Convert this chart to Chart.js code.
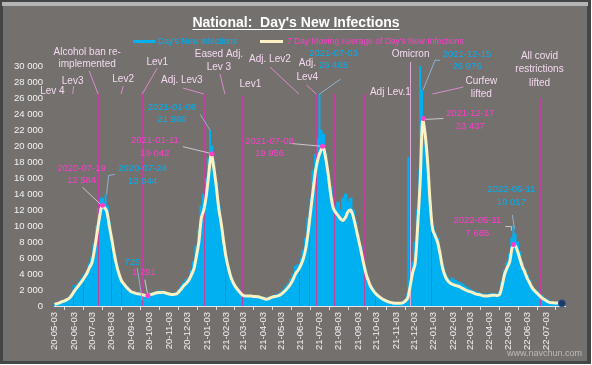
<!DOCTYPE html>
<html lang="en">
<head>
  <meta charset="UTF-8">
  <title>National: Day's New Infections</title>
  <script src="https://cdn.jsdelivr.net/npm/chart.js"></script>
  <style>
    body { margin: 0; background: #ffffff; }
    #chart { display: block; }
  </style>
</head>
<body>
  <canvas id="chart" width="592" height="365"></canvas>

  <script>
    // Data: one value every 4 days from 2020-05-03
    const START_DATE = '2020-05-03';
    const STEP_DAYS = 4;

    const dailyNew = [
      250, 350, 450, 600, 700, 900, 1100, 1500, 2600, 2500,
      3000, 3400, 4000, 4300, 5300, 6000, 7800, 10000, 12200, 13500,
      13000, 12500, 10500, 8500, 6500, 5000, 3800, 3200, 2700, 2400,
      2000, 1800, 1600, 1700, 1600, 1500, 1400, 1300, 1500, 1500,
      1700, 1800, 1900, 1700, 1800, 1700, 1400, 1500, 1600, 1700,
      2100, 2500, 2900, 3300, 3600, 4500, 5600, 7500, 9500, 12500,
      14000, 16000, 18500, 20000, 18000, 15500, 12500, 10000, 8000, 6000,
      4500, 3600, 2900, 2400, 2000, 1700, 1400, 1300, 1350, 1300,
      1300, 1300, 1200, 1100, 1100, 900, 1000, 1200, 1300, 1400,
      1500, 1700, 2000, 2400, 2800, 3400, 4000, 5000, 5200, 6000,
      7000, 8500, 11000, 13500, 17000, 19000, 21000, 22000, 21500, 19000,
      16000, 15000, 13500, 12500, 13000, 12000, 13500, 14000, 13000, 13500,
      12000, 10500, 9000, 7500, 6000, 4500, 3500, 2600, 2100, 1700,
      1400, 1100, 900, 800, 600, 500, 450, 400, 400, 400,
      500, 800, 1500, 2800, 5500, 8000, 12000, 17000, 22000, 20000,
      15000, 12000, 10000, 9000, 8500, 7000, 5000, 4000, 3500, 3200,
      3500, 3200, 3000, 2900, 2800, 2500, 2300, 2100, 1900, 1800,
      1700, 1600, 1500, 1500, 1400, 1500, 1600, 1500, 1500, 1700,
      3000, 4500, 5500, 6500, 8500, 9000, 8000, 6800, 5500, 4600,
      3800, 3200, 2500, 2100, 1800, 1500, 1300, 1000, 800, 600,
      500, 500, 450, 400, 350
    ];

    const movingAvg = [
      200, 300, 400, 550, 650, 800, 1000, 1400, 1900, 2300,
      2700, 3100, 3600, 4100, 4800, 5400, 7000, 9000, 11000, 12500,
      12300, 11800, 10000, 8300, 6500, 5000, 3900, 3100, 2700, 2300,
      2000, 1750, 1650, 1550, 1500, 1450, 1350, 1300, 1350, 1450,
      1550, 1650, 1700, 1700, 1700, 1600, 1500, 1450, 1450, 1500,
      1800, 2150, 2550, 2850, 3250, 3900, 4600, 6200, 8000, 11000,
      12000, 13800, 16500, 19000, 17300, 15000, 12200, 10300, 8000, 6000,
      4600, 3500, 2800, 2300, 1900, 1550, 1300, 1250, 1250, 1250,
      1200, 1200, 1150, 1050, 950, 850, 900, 1050, 1150, 1200,
      1300, 1450, 1700, 2000, 2350, 2800, 3400, 4100, 4500, 5100,
      5900, 7200, 9300, 12000, 14600, 17000, 18500, 19400, 19900, 18500,
      16500, 14000, 12300, 11700, 11300, 10900, 10700, 11100, 11800, 12000,
      11300, 10000, 8600, 7200, 5700, 4300, 3300, 2500, 2000, 1600,
      1300, 1050, 850, 700, 550, 450, 380, 350, 330, 350,
      400, 600, 1000, 2500, 4200, 5300, 10000, 15500, 23300, 21500,
      18000, 13000, 9600, 8800, 8000, 6500, 4800, 3800, 3200, 2900,
      2700, 2600, 2500, 2400, 2200, 2050, 1900, 1800, 1700, 1550,
      1450, 1400, 1300, 1250, 1250, 1300, 1350, 1350, 1300, 1450,
      2600, 4000, 4800, 5500, 7300, 7600, 7000, 6000, 5000, 4300,
      3500, 2900, 2300, 1900, 1600, 1300, 1000, 800, 600, 450,
      400, 390, 380, 350, 330
    ];

    // single days that stand out from the rest
    const spikeDates = ['2020-07-24', '2021-01-08', '2021-07-03', '2021-11-23', '2021-12-12', '2021-12-15', '2022-05-11'];
    const spikeValues = [13944, 21980, 26485, 18586, 37875, 26976, 10017];

    // labelled values
    const noteDates = ['2020-07-19', '2020-07-24', '2020-09-21', '2020-09-30', '2021-01-08', '2021-01-11',
                       '2021-07-03', '2021-07-08', '2021-12-15', '2021-12-17', '2022-05-11', '2022-05-11'];
    const noteValues = [12584, 13944, 725, 1291, 21980, 19042, 26485, 19956, 26976, 23437, 10017, 7685];
    const noteSeries = ['avg', 'daily', 'daily', 'avg', 'daily', 'avg', 'daily', 'avg', 'daily', 'avg', 'daily', 'avg'];
    const noteShowDate = [true, true, false, false, true, true, true, true, true, true, true, true];

    // lockdown levels and other events
    const eventDates = ['2020-05-01', '2020-06-01', '2020-06-17', '2020-07-12', '2020-08-01', '2020-08-18', '2020-09-21',
                        '2020-12-29', '2021-02-01', '2021-03-01', '2021-05-31', '2021-06-16', '2021-06-28', '2021-07-26',
                        '2021-09-13', '2021-10-01', '2021-11-25', '2021-12-30', '2022-06-22'];
    const eventLabels = [['Lev 4'], ['Lev3'], [], ['Alcohol ban re-', 'implemented'], [], ['Lev2'], ['Lev1'],
                         ['Adj. Lev3'], ['Eased Adj.', 'Lev 3'], ['Lev1'], ['Adj. Lev2'], [], ['Adj.', 'Lev4'], [],
                         [], ['Adj Lev.1'], ['Omicron'], ['Curfew', 'lifted'], ['All covid', 'restrictions', 'lifted']];

    // ---- layout of the annotations (pixel offsets) ----
    const eventLayout = [
      { top: 26000, label: [-1, -7] },
      { top: 26500, label: [0, -13], leader: [[1, -8], [0, 0]] },
      { top: 26500 },
      { top: 26500, label: [-11, -42], gap: 12, leader: [[-9, -23], [0, 0]] },
      { top: 26500 },
      { top: 26500, label: [2, -15], leader: [[2, -8], [0, 0]] },
      { top: 26500, label: [15, -32], leader: [[15, -26], [0, 0]] },
      { top: 26500, label: [-22, -14], leader: [[-21, -6], [0, 0]] },
      { top: 26500, label: [-6, -40], gap: 13, leader: [[-5, -20], [0, 0]] },
      { top: 26250, label: [8, -12] },
      { top: 26500, label: [-29, -35], leader: [[-29, -27], [0, 0]] },
      { top: 26500 },
      { top: 26500, label: [-9, -31], gap: 14, leader: [[-10, -9], [0, 0]] },
      { top: 26500 },
      { top: 26500 },
      { top: 26000, label: [15, -6] },
      { top: 30500, label: [1, -8], light: true },
      { top: 26500, label: [50, -13], gap: 13, leader: [[32, -7], [1, 0]] },
      { top: 26000, label: [0, -42], gap: 13.5 }
    ];

    const noteLayout = [
      { label: [-21, -37], leader: [[-20, -18], [-2, -1]] },
      { label: [37, -26], leader: [[9, -20], [3, -19], [1, 0]] },
      { label: [-10, -38], leader: [[-5, -32], [0, 0]] },
      { label: [-4, -23], leader: [[-3, -16], [0, 0]] },
      { label: [-38, -23], leader: [[-10, -16], [0, 0]] },
      { label: [-57, -13], leader: [[-29, -7], [0, 0]] },
      { label: [14, -41], leader: [[21, -15], [0, 0]] },
      { label: [-53, -5], leader: [[-33, -3], [0, 0]] },
      { label: [45, -36], leader: [[18, -30], [13, -30], [1, 0]] },
      { label: [47, -5], leader: [[20, 0], [0, 1]] },
      { label: [-2, -36], leader: [[-1, -11], [1, 3]] },
      { label: [-36, -24], leader: [[-8, -18], [-2, -18], [-2, -14]] }
    ];

    const FONT = '"Liberation Sans", Arial, sans-serif';
    const CYAN = '#00b0f0';
    const MAGENTA = '#ff3ccc';
    const CREAM = '#fbf1c2';

    const DAY_MS = 86400000;
    const startMs = Date.parse(START_DATE);
    const dayOf = s => Math.round((Date.parse(s) - startMs) / DAY_MS);
    const fmtNum = v => String(v).replace(/\B(?=(\d{3})+(?!\d))/g, ' ');

    // x ticks on the 3rd of every month
    const tickDays = [];
    for (let y = 2020, m = 4; y < 2022 || m <= 6; m++) {
      if (m > 11) { m = 0; y++; }
      tickDays.push(Math.round((Date.UTC(y, m, 3) - startMs) / DAY_MS));
    }
    function tickLabel(day) {
      const d = new Date(startMs + day * DAY_MS);
      const p = n => String(n).padStart(2, '0');
      return p(d.getUTCFullYear() % 100) + '-' + p(d.getUTCMonth() + 1) + '-' + p(d.getUTCDate());
    }

    const avgPoints = movingAvg.map((v, i) => ({ x: i * STEP_DAYS, y: v }));
    const dailyPoints = dailyNew.map((v, i) => ({ x: i * STEP_DAYS, y: v }));
    const spikePoints = spikeDates.map((d, i) => ({ x: dayOf(d), y: spikeValues[i] }));

    function drawLeader(ctx, x0, y0, pts, color) {
      ctx.strokeStyle = color;
      ctx.lineWidth = 1;
      ctx.beginPath();
      pts.forEach((p, i) => {
        if (i === 0) ctx.moveTo(x0 + p[0], y0 + p[1]);
        else ctx.lineTo(x0 + p[0], y0 + p[1]);
      });
      ctx.stroke();
    }

    const decorations = {
      id: 'decorations',
      beforeDraw(chart) {
        const ctx = chart.ctx;
        const w = chart.width, h = chart.height;
        ctx.save();
        ctx.fillStyle = '#ffffff';
        ctx.fillRect(0, 0, w, h);
        ctx.fillStyle = '#454545';
        ctx.fillRect(0, 0, w - 1, h - 1);
        ctx.fillStyle = '#b4b4b4';
        ctx.fillRect(2, 2, w - 6, 4);
        ctx.fillStyle = '#74706e';
        ctx.fillRect(3, 6, w - 8, h - 10);
        ctx.restore();
      },
      beforeDatasetDraw(chart, args) {
        if (args.index !== 0) return;
        const ctx = chart.ctx;
        const xs = chart.scales.x, ys = chart.scales.y;
        const bottom = chart.chartArea.bottom;
        ctx.save();
        eventDates.forEach((d, i) => {
          const x = Math.round(xs.getPixelForValue(dayOf(d))) + 0.5;
          const top = ys.getPixelForValue(eventLayout[i].top);
          ctx.strokeStyle = eventLayout[i].light ? '#e2a6da' : '#c2409e';
          ctx.lineWidth = 1;
          ctx.beginPath();
          ctx.moveTo(x, top);
          ctx.lineTo(x, bottom);
          ctx.stroke();
        });
        ctx.restore();
      },
      afterDatasetsDraw(chart) {
        const ctx = chart.ctx;
        const xs = chart.scales.x, ys = chart.scales.y;
        ctx.save();
        ctx.textAlign = 'center';
        ctx.textBaseline = 'middle';

        // event labels
        eventDates.forEach((d, i) => {
          const lay = eventLayout[i];
          if (!lay.label) return;
          const x = xs.getPixelForValue(dayOf(d));
          const y = ys.getPixelForValue(lay.top);
          if (lay.leader) drawLeader(ctx, x, y, lay.leader, '#d98ccb');
          ctx.fillStyle = '#f3d8ef';
          ctx.font = '10px ' + FONT;
          eventLabels[i].forEach((t, k) => {
            ctx.fillText(t, x + lay.label[0], y + lay.label[1] + k * (lay.gap || 13));
          });
        });

        // value notes
        noteDates.forEach((d, i) => {
          const lay = noteLayout[i];
          const isAvg = noteSeries[i] === 'avg';
          const x = xs.getPixelForValue(dayOf(d));
          const y = ys.getPixelForValue(noteValues[i]);
          drawLeader(ctx, x, y, lay.leader, isAvg ? '#cdc6cc' : '#8fb3cc');
          if (isAvg) {
            ctx.fillStyle = MAGENTA;
            ctx.beginPath();
            ctx.arc(x, y, 2.5, 0, Math.PI * 2);
            ctx.fill();
          }
          const lines = noteShowDate[i] ? [d, fmtNum(noteValues[i])] : [fmtNum(noteValues[i])];
          ctx.fillStyle = isAvg ? MAGENTA : CYAN;
          ctx.font = '9.5px ' + FONT;
          lines.forEach((t, k) => ctx.fillText(t, x + lay.label[0], y + lay.label[1] + k * 12.5));
        });

        // last point marker
        const lastX = xs.getPixelForValue((movingAvg.length - 1) * STEP_DAYS);
        const lastY = ys.getPixelForValue(movingAvg[movingAvg.length - 1]);
        ctx.fillStyle = '#1f3a6a';
        ctx.strokeStyle = '#2d4f8a';
        ctx.beginPath();
        ctx.arc(lastX, lastY, 3.5, 0, Math.PI * 2);
        ctx.fill();
        ctx.stroke();

        // title
        const title = "National:  Day's New Infections";
        ctx.font = 'bold 14px ' + FONT;
        ctx.fillStyle = '#ffffff';
        ctx.textBaseline = 'alphabetic';
        ctx.fillText(title, 296, 27);
        const tw = ctx.measureText(title).width;
        ctx.fillRect(296 - tw / 2, 29, tw, 1);

        // legend
        ctx.textAlign = 'left';
        ctx.textBaseline = 'middle';
        ctx.font = '8.5px ' + FONT;
        ctx.fillStyle = CYAN;
        ctx.fillRect(133, 40, 22, 3);
        ctx.fillText("Day's New Infections", 158, 41.5);
        ctx.fillStyle = CREAM;
        ctx.fillRect(260, 40, 23, 3);
        ctx.fillStyle = MAGENTA;
        ctx.fillText("7 Day Moving Average of Day's New Infections", 287, 41.5);

        // watermark
        ctx.textAlign = 'right';
        ctx.font = '9px ' + FONT;
        ctx.fillStyle = 'rgba(225,225,225,0.65)';
        ctx.fillText('www.navchun.com', 582, 354);
        ctx.restore();
      }
    };

    const chart = new Chart(document.getElementById('chart'), {
      type: 'bar',
      data: {
        datasets: [
          {
            type: 'line',
            label: "7 Day Moving Average of Day's New Infections",
            data: avgPoints,
            borderColor: CREAM,
            borderWidth: 3,
            pointRadius: 0,
            tension: 0.3,
            order: 0
          },
          {
            label: "Day's New Infections",
            data: dailyPoints,
            backgroundColor: CYAN,
            barThickness: 3.2,
            grouped: false,
            order: 2
          },
          {
            label: 'spikes',
            data: spikePoints,
            backgroundColor: CYAN,
            barThickness: 1.3,
            grouped: false,
            order: 1
          }
        ]
      },
      options: {
        responsive: false,
        animation: false,
        devicePixelRatio: 1,
        layout: { padding: { top: 66, right: 27, bottom: 0, left: 0 } },
        plugins: {
          legend: { display: false },
          tooltip: { enabled: false }
        },
        scales: {
          x: {
            type: 'linear',
            min: -1,
            max: 821,
            offset: false,
            grid: { display: true, drawOnChartArea: false, drawTicks: true, tickLength: 4, color: '#dcdcdc' },
            border: { display: true, color: '#e8e8e8', width: 1 },
            ticks: {
              autoSkip: false,
              minRotation: 90,
              maxRotation: 90,
              padding: 2,
              color: '#f2f2f2',
              font: { family: FONT, size: 9.5 },
              callback: v => tickLabel(v)
            },
            afterBuildTicks(scale) { scale.ticks = tickDays.map(v => ({ value: v })); },
            afterFit(scale) { scale.height = 59; }
          },
          y: {
            min: 0,
            max: 30000,
            grid: { display: false, drawTicks: false },
            border: { display: false },
            ticks: {
              stepSize: 2000,
              padding: 11,
              color: '#f2f2f2',
              font: { family: FONT, size: 9.5 },
              callback: v => fmtNum(v)
            },
            afterFit(scale) { scale.width = 54; }
          }
        }
      },
      plugins: [decorations]
    });
  </script>
</body>
</html>
